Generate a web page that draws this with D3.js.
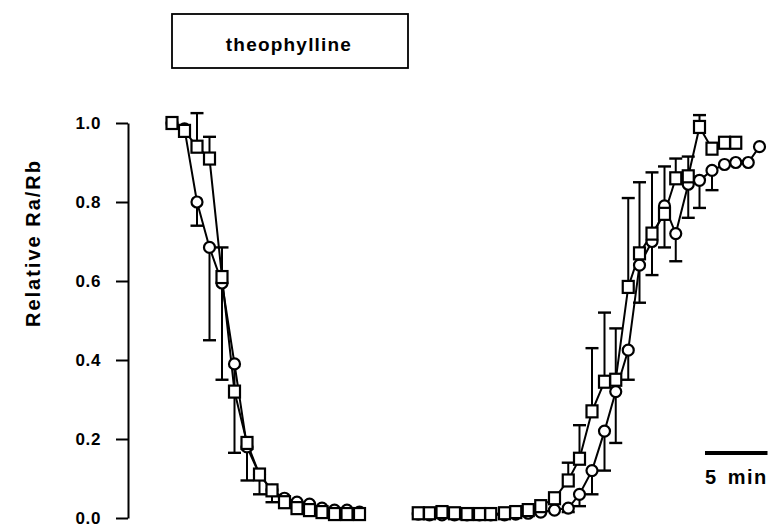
<!DOCTYPE html>
<html><head><meta charset="utf-8">
<script src="https://cdn.jsdelivr.net/npm/d3@7"></script>
<style>body{margin:0;background:#fff}svg{display:block}text{font-family:"Liberation Sans",Arial,sans-serif;fill:#000}</style>
</head><body><svg id="c" width="768" height="527"></svg>
<script>
// time (min) of each sample, two recording segments
const time1 = [0,1,2,3,4,5,6,7,8,9,10,11,12,13,14,15];
const time2 = [19.7,20.6,21.6,22.6,23.6,24.6,25.5,26.6,27.5,28.5,29.5,30.6,31.7,32.6,33.6,34.6,35.5,36.5,37.4,38.4,39.4,40.3,41.3,42.2,43.2,44.2,45.1,46.1,47.0];
// circles series (mean, lower error limit)
const circ1 = [1.0,0.985,0.80,0.685,0.595,0.39,0.18,0.11,0.07,0.05,0.04,0.035,0.025,0.02,0.02,0.015];
const circ1Lo = [null,null,0.74,0.45,0.35,0.165,0.095,0.06,0.04,null,null,null,null,null,null,null];
const circ2 = [0.01,0.008,0.008,0.008,0.008,0.008,0.008,0.008,0.01,0.012,0.015,0.02,0.025,0.06,0.12,0.22,0.32,0.425,0.64,0.70,0.79,0.72,0.845,0.855,0.88,0.895,0.90,0.90,0.94];
const circ2Lo = [null,null,null,null,null,null,null,null,null,null,null,null,0.015,0.03,0.06,0.12,0.19,0.35,0.545,0.615,0.685,0.65,0.76,0.785,0.83,null,null,null,null];
// squares series (mean, upper error limit)
const sq1 = [1.0,0.98,0.94,0.91,0.61,0.32,0.19,0.11,0.07,0.04,0.025,0.02,0.015,0.01,0.01,0.01];
const sq1Hi = [null,null,1.025,0.965,0.685,null,null,null,null,null,null,null,null,null,null,null];
const sq2 = [0.012,0.012,0.015,0.012,0.01,0.01,0.01,0.012,0.015,0.02,0.03,0.05,0.095,0.15,0.27,0.345,0.35,0.585,0.67,0.72,0.77,0.86,0.865,0.99,0.935,0.95,0.95];
const sq2Hi = [null,null,null,null,null,null,null,null,null,null,null,0.06,0.14,0.235,0.43,0.52,0.48,0.81,0.85,0.875,0.89,0.91,0.915,1.02,null,null,null];
const yTicks = [0.0,0.2,0.4,0.6,0.8,1.0];
const yLabel = "Relative Ra/Rb";
const boxLabel = "theophylline";
const scaleBarMin = 5;
const scaleBarLabel = "5 min";

const svg = d3.select("#c");
const x = d3.scaleLinear().domain([0, 47.04]).range([172, 760]);
const y = d3.scaleLinear().domain([0, 1]).range([518, 123]);

// y axis
const ax = svg.append("g").attr("transform","translate(128,0)")
  .call(d3.axisLeft(y).tickValues(yTicks).tickFormat(d3.format(".1f")).tickSize(12).tickSizeOuter(0));
ax.select(".domain").attr("stroke","#000").attr("stroke-width",2);
ax.selectAll(".tick line").attr("stroke","#000").attr("stroke-width",2);
ax.selectAll(".tick text").attr("x",-27).attr("dy","0.35em")
  .style("font-size","17px").style("font-weight","bold").style("letter-spacing","0.6px").attr("fill","#000");

svg.append("text").attr("transform","translate(40,243) rotate(-90)")
  .attr("text-anchor","middle").style("font-size","20px").style("font-weight","bold")
  .style("letter-spacing","2px").text(yLabel);

// stimulus box
svg.append("rect").attr("x",172).attr("y",14).attr("width",236).attr("height",54)
  .attr("fill","none").attr("stroke","#000").attr("stroke-width",1.8);
svg.append("text").attr("x",289).attr("y",51).attr("text-anchor","middle")
  .style("font-size","19px").style("font-weight","bold").style("letter-spacing","1.2px").text(boxLabel);

// scale bar
svg.append("line").attr("x1",705).attr("x2",705 + x(scaleBarMin) - x(0)).attr("y1",453).attr("y2",453)
  .attr("stroke","#000").attr("stroke-width",4);
svg.append("text").attr("x",705).attr("y",484).style("font-size","20px").style("font-weight","bold")
  .style("letter-spacing","1.5px").style("word-spacing","3px").text(scaleBarLabel);

function pts(t, v){ return v.map((d,i)=>({t:t[i], v:d})); }
const line = d3.line().x(d=>x(d.t)).y(d=>y(d.v));
const segs = [
  {p: pts(time1, circ1), e: circ1Lo, kind:"c"},
  {p: pts(time2, circ2), e: circ2Lo, kind:"c"},
  {p: pts(time1, sq1), e: sq1Hi, kind:"s"},
  {p: pts(time2, sq2), e: sq2Hi, kind:"s"}
];
const g = svg.append("g");
segs.forEach(s=>{
  g.append("path").attr("d", line(s.p)).attr("fill","none").attr("stroke","#000").attr("stroke-width",2);
});
segs.forEach(s=>{
  s.p.forEach((d,i)=>{
    const e = s.e[i]; if(e==null) return;
    const cx = x(d.t);
    g.append("line").attr("x1",cx).attr("x2",cx).attr("y1",y(d.v)).attr("y2",y(e)).attr("stroke","#000").attr("stroke-width",2);
    g.append("line").attr("x1",cx-6.5).attr("x2",cx+6.5).attr("y1",y(e)).attr("y2",y(e)).attr("stroke","#000").attr("stroke-width",2.4);
  });
});
segs.forEach(s=>{
  s.p.forEach(d=>{
    if(s.kind==="c"){
      g.append("circle").attr("cx",x(d.t)).attr("cy",y(d.v)).attr("r",5.5)
        .attr("fill","#fff").attr("stroke","#000").attr("stroke-width",2.2);
    } else {
      g.append("rect").attr("x",x(d.t)-5.5).attr("y",y(d.v)-6).attr("width",11).attr("height",12)
        .attr("fill","#fff").attr("stroke","#000").attr("stroke-width",2.2);
    }
  });
});
</script></body></html>
